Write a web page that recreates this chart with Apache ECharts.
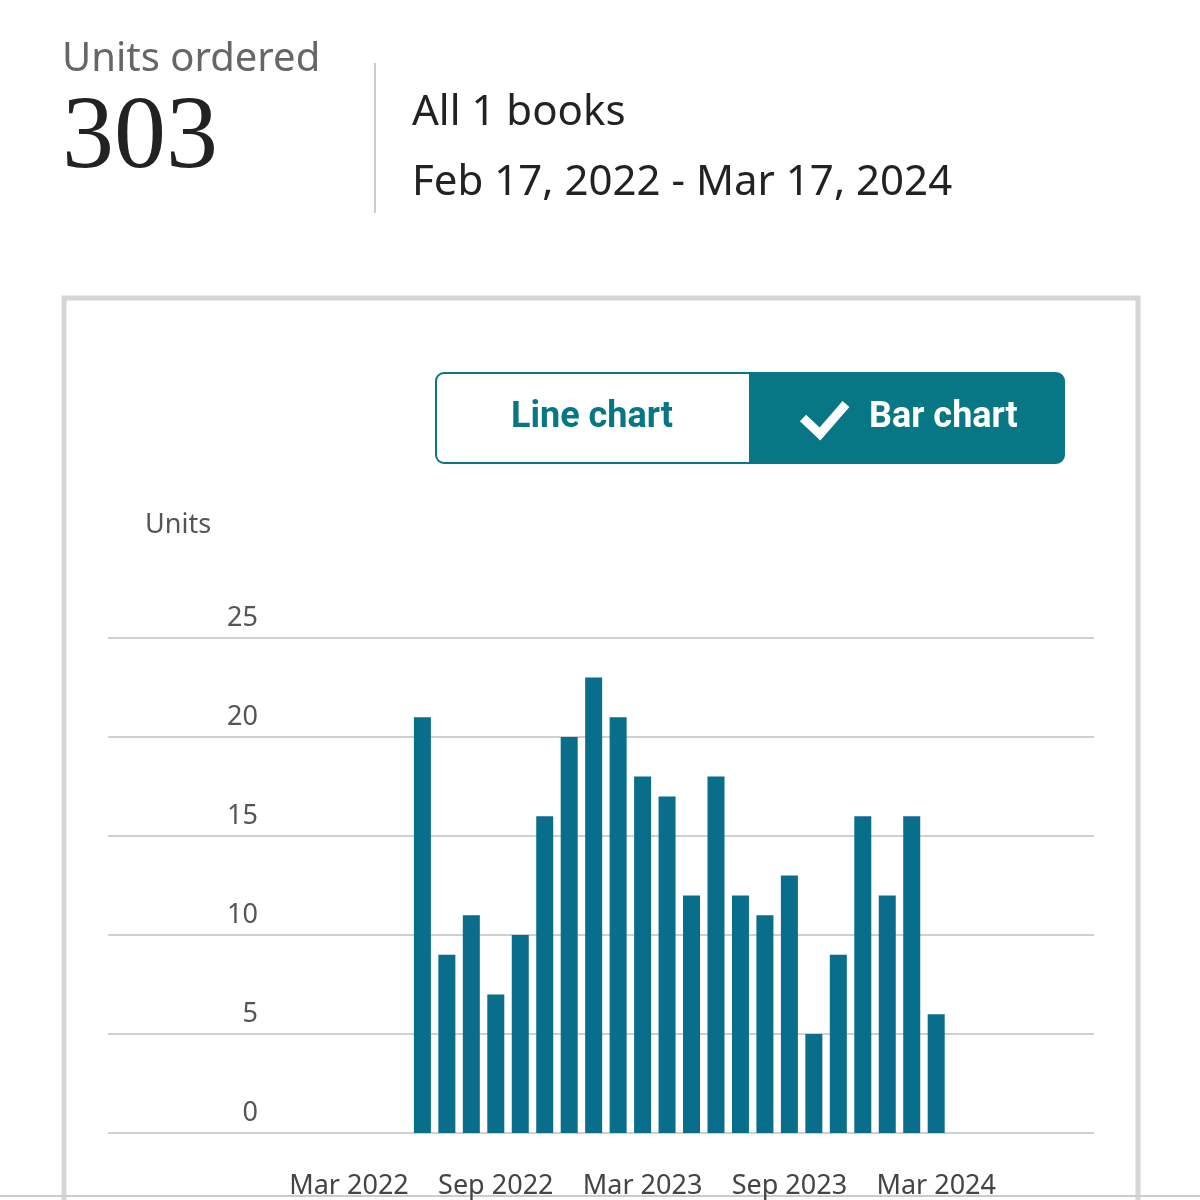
<!DOCTYPE html>
<html><head><meta charset="utf-8">
<script src="https://cdn.jsdelivr.net/npm/echarts@6/dist/echarts.min.js"></script>
<style>html,body{margin:0;padding:0;background:#fff}#c{width:1200px;height:1200px}</style>
</head><body><div id="c"></div>
<script>
// month index 0 = Mar 2022
const monthIdx = [3,4,5,6,7,8,9,10,11,12,13,14,15,16,17,18,19,20,21,22,23,24];
const units = [21,9,11,7,10,16,20,23,21,18,17,12,18,12,11,13,5,9,16,12,16,6];
const tickPos = [0,6,12,18,24];
const tickLabels = ['Mar 2022','Sep 2022','Mar 2023','Sep 2023','Mar 2024'];
const yTicks = [0,5,10,15,20,25];

const chart = echarts.init(document.getElementById('c'));
const teal = '#087785';
chart.setOption({
  animation:false,
  grid:{left:108,right:106,top:638,bottom:65},
  xAxis:{type:'value',min:-9.85,max:30.45,splitLine:{show:false},
    axisLine:{show:false},axisTick:{show:false},
    axisLabel:{customValues:tickPos,formatter:v=>tickLabels[tickPos.indexOf(v)]||'',
      fontSize:27,color:'#444',fontFamily:'Noto Sans',margin:40}},
  yAxis:{type:'value',min:0,max:25,interval:5,
    axisLine:{show:false},axisTick:{show:false},
    splitLine:{lineStyle:{color:'#cfcfcf',width:2}},
    axisLabel:{margin:-150,align:'right',verticalAlign:'bottom',padding:[0,0,6,0],
      fontSize:27,color:'#555',fontFamily:'Noto Sans'}},
  series:[{type:'bar',data:monthIdx.map((m,i)=>[m,units[i]]),barWidth:17,
    itemStyle:{color:'#086e8b'}}],
  graphic:[
    {type:'text',left:62,top:40,style:{text:'Units ordered',font:'40px "Noto Sans"',fill:'#666'}},
    {type:'text',left:62,top:88,style:{text:'303',font:'104px "Liberation Serif"',fill:'#222'}},
    {type:'line',shape:{x1:375,y1:63,x2:375,y2:213},style:{stroke:'#ccc',lineWidth:2}},
    {type:'text',left:412,top:92,style:{text:'All 1 books',font:'42px "Noto Sans"',fill:'#222'}},
    {type:'text',left:412,top:162,style:{text:'Feb 17, 2022 - Mar 17, 2024',font:'42px "Noto Sans"',fill:'#222'}},
    {type:'rect',shape:{x:64,y:298,width:1074,height:1000},style:{fill:'none',stroke:'#d6d6d6',lineWidth:5}},
    {type:'rect',shape:{x:436,y:373,width:628,height:90,r:8},style:{fill:teal,stroke:teal,lineWidth:2}},
    {type:'rect',shape:{x:437,y:374,width:312,height:88,r:[7,0,0,7]},style:{fill:'#fff'}},
    {type:'text',x:592,y:418,style:{text:'Line chart',font:'bold 36px Roboto',fill:teal,align:'center',verticalAlign:'middle'}},
    {type:'polyline',shape:{points:[[803,418],[820,434],[846,404]]},style:{stroke:'#fff',lineWidth:9,fill:'none'}},
    {type:'text',x:869,y:418,style:{text:'Bar chart',font:'bold 36px Roboto',fill:'#fff',verticalAlign:'middle'}},
    {type:'text',left:145,top:512,style:{text:'Units',font:'27px "Noto Sans"',fill:'#555'}},
    {type:'line',shape:{x1:0,y1:1196,x2:1200,y2:1196},style:{stroke:'#ccc',lineWidth:2}}
  ]
});
</script></body></html>
